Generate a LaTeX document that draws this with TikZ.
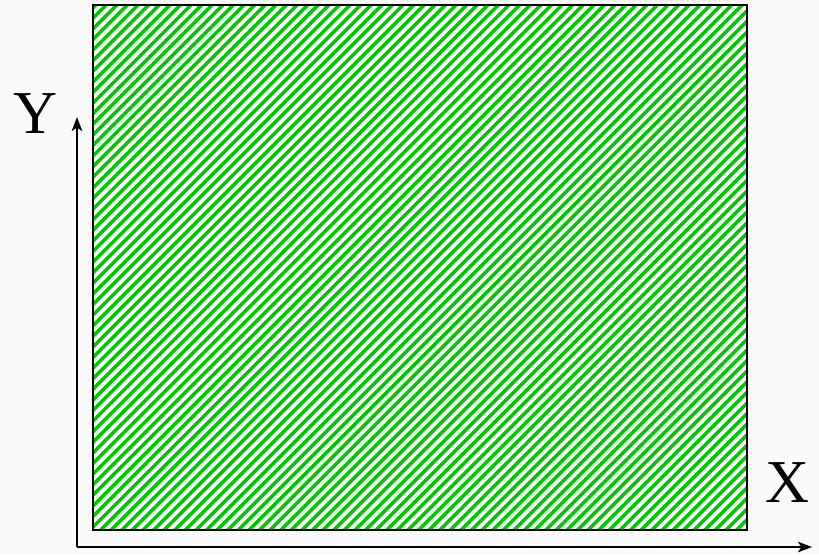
\documentclass[tikz,border=0pt]{standalone}
\usepackage{fontspec}
\setmainfont{Liberation Serif}
\usetikzlibrary{arrows.meta}

\definecolor{hatchgreen}{RGB}{0,200,0}

\begin{document}
\begin{tikzpicture}[
    x=0.03cm, y=-0.03cm,
    plane/.style={draw=black, line width=2.4pt},
    hatch/.style={hatchgreen, line width=3pt},
    axis/.style={-{Stealth[length=12pt, width=9pt, inset=3pt]}, line width=1.6pt},
    label/.style={font=\fontsize{52}{52}\selectfont}
]

% Background
\fill[gray!4] (0,0) rectangle (819,554);
\useasboundingbox (0,0) rectangle (819,554);

% Plane corners
\coordinate (tl) at (93,5);
\coordinate (br) at (747,530);

% Hatched plane
\fill[white] (tl) rectangle (br);
\begin{scope}
  \clip (tl) rectangle (br);
  \foreach \c in {90,100.6,...,1290}
    \draw[hatch] (\c,0) -- (\c-600,600);
\end{scope}
\draw[plane] (tl) rectangle (br);

% Axes
\coordinate (origin) at (77,547);
\coordinate (xend) at (812,547);
\coordinate (yend) at (77,117);
\draw[axis] (origin) -- (xend);
\draw[axis] (origin) -- (yend);

% Labels
\node[label] (ylabel) at (35,114) {Y};
\node[label] (xlabel) at (787,483) {X};

\end{tikzpicture}
\end{document}
